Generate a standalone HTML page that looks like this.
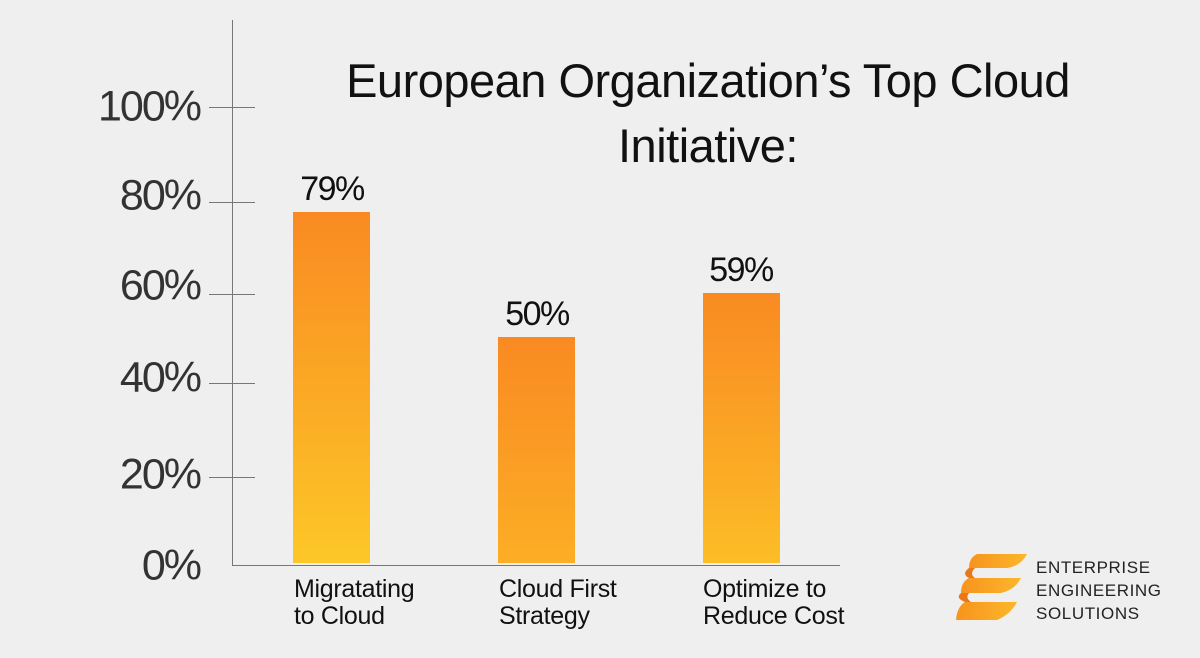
<!DOCTYPE html>
<html><head><meta charset="utf-8"><style>
html,body{margin:0;padding:0;}
body{width:1200px;height:658px;background:#efefef;position:relative;overflow:hidden;font-family:"Liberation Sans",sans-serif;color:#111;}
.a{position:absolute;}
.yl{position:absolute;right:1000px;font-size:43px;color:#333;letter-spacing:-2px;line-height:1;transform:translateY(-50%);}
.tick{position:absolute;left:209px;width:46px;height:1px;background:#777;}
.bar{position:absolute;width:77px;}
.val{position:absolute;font-size:34px;width:120px;text-align:center;line-height:1;letter-spacing:-1.5px;}
.cat{position:absolute;font-size:25px;line-height:27px;color:#111;letter-spacing:-0.3px;}
</style></head><body>
<div class="a" style="left:232px;top:20px;width:1px;height:546px;background:#777"></div>
<div class="a" style="left:232px;top:565px;width:608px;height:1px;background:#777"></div>
<div class="tick" style="top:107px"></div>
<div class="tick" style="top:202px"></div>
<div class="tick" style="top:294px"></div>
<div class="tick" style="top:383px"></div>
<div class="tick" style="top:477px"></div>
<div class="yl" style="top:107px">100%</div>
<div class="yl" style="top:196px">80%</div>
<div class="yl" style="top:286px">60%</div>
<div class="yl" style="top:378px">40%</div>
<div class="yl" style="top:475px">20%</div>
<div class="yl" style="top:566px">0%</div>
<div class="a" style="left:288px;top:48px;width:840px;text-align:center;font-size:47px;line-height:65px;letter-spacing:-0.5px;">European Organization’s Top Cloud<br>Initiative:</div>
<div class="bar" style="left:293px;top:212px;height:351px;background:linear-gradient(#f98a22,#fdc727)"></div>
<div class="bar" style="left:498px;top:337px;height:226px;background:linear-gradient(#f98a22,#fcae25)"></div>
<div class="bar" style="left:703px;top:293px;height:270px;background:linear-gradient(#f98a22,#fcbd26)"></div>
<div class="val" style="left:272px;top:172px">79%</div>
<div class="val" style="left:477px;top:297px">50%</div>
<div class="val" style="left:681px;top:253px">59%</div>
<div class="cat" style="left:294px;top:576px">Migratating<br>to Cloud</div>
<div class="cat" style="left:499px;top:576px">Cloud First<br>Strategy</div>
<div class="cat" style="left:703px;top:576px">Optimize to<br>Reduce Cost</div>
<svg class="a" style="left:955px;top:552px" width="75" height="76" viewBox="0 0 75 76">
<defs><linearGradient id="g" x1="0" y1="0" x2="1" y2="0"><stop offset="0" stop-color="#f7931e"/><stop offset="1" stop-color="#fcb72a"/></linearGradient></defs>
<path d="M22 2 H72 Q66 14 52 16 H14 Q14 6 22 2Z" fill="url(#g)"/>
<path d="M14 26 H66 Q60 38 46 41 H6 Q6 30 14 26Z" fill="url(#g)"/>
<path d="M10 50 H62 Q56 62 42 68 H1 Q2 55 10 50Z" fill="url(#g)"/>
<path d="M14 16 Q6 22 14 26 L20 26 Q14 22 20 16Z" fill="#e8781a"/>
<path d="M6 41 Q0 46 10 50 L16 50 Q10 46 14 41Z" fill="#e8781a"/>
</svg>
<div class="a" style="left:1036px;top:556px;font-size:17px;line-height:23px;letter-spacing:0.6px;color:#222">ENTERPRISE<br>ENGINEERING<br>SOLUTIONS</div>
</body></html>
